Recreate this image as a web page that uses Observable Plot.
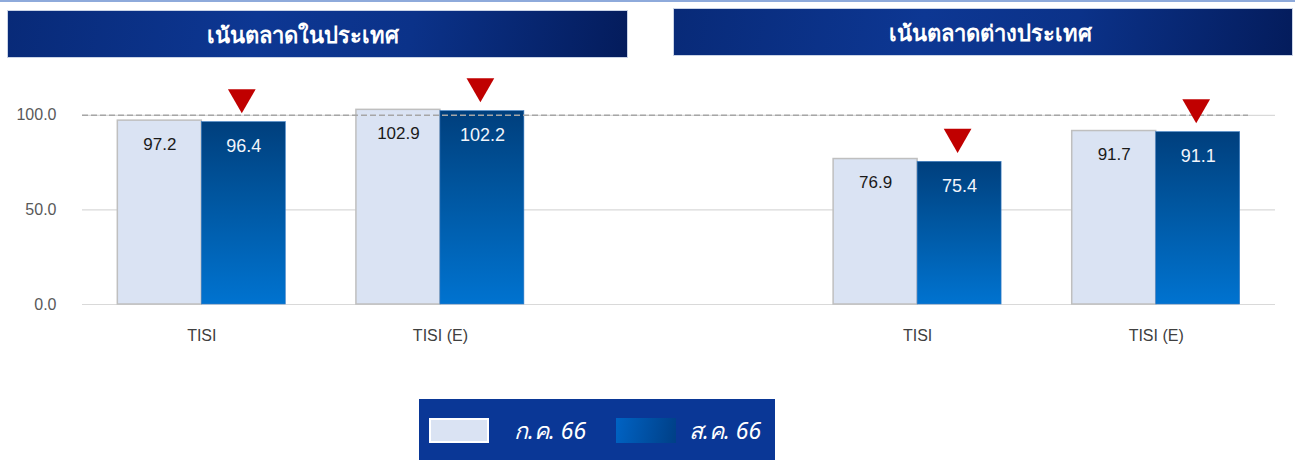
<!DOCTYPE html>
<html>
<head>
<meta charset="utf-8">
<script src="https://cdn.jsdelivr.net/npm/d3@7"></script>
<script src="https://cdn.jsdelivr.net/npm/@observablehq/plot@0.6"></script>
<style>
  html, body { margin: 0; padding: 0; background: #fff; }
  #page { position: relative; width: 1295px; height: 460px; overflow: hidden; font-family: "Liberation Sans", Arial, sans-serif; }
  #topline { position: absolute; left: 0; top: 0; width: 1295px; height: 2px; background: #8eaadb; }
  .banner { position: absolute; height: 48px; line-height: 46px; text-align: center; color: #fff; font-size: 22px; font-weight: bold;
    background: linear-gradient(100deg, #082a78 0%, #0d3793 40%, #0b3289 65%, #041c5c 100%); border: 1px solid #c9d3e6; box-sizing: border-box;
    font-family: "Noto Sans", "Liberation Sans", sans-serif; }
  #chart { position: absolute; left: 0; top: 0; }
  #legend { position: absolute; left: 419px; top: 399px; width: 356px; height: 61px; background: #0a3796; }
  .sw { position: absolute; top: 19px; width: 60px; height: 25px; box-sizing: border-box; }
  .lt { position: absolute; top: 18px; line-height: 27px; color: #fff; font-size: 23px; font-style: italic; font-family: "Noto Sans", "Liberation Sans", sans-serif; }
</style>
</head>
<body>
<div id="page">
  <div id="topline"></div>
  <div class="banner" id="b1" style="left:7px; top:10px; width:621px; padding-right:30px;"></div>
  <div class="banner" id="b2" style="left:673px; top:8px; width:620px; padding-left:14px;"></div>
  <div id="chart"></div>
  <div id="legend">
    <div class="sw" style="left:10px; background:#dae3f3; border:2px solid #fff;"></div>
    <div class="lt" id="l1" style="left:95px;"></div>
    <div class="sw" style="left:197px; background:linear-gradient(100deg,#0063c4,#003f86);"></div>
    <div class="lt" id="l2" style="left:270px;"></div>
  </div>
</div>
<script>
// ---- data ----
const panels = ["เน้นตลาดในประเทศ", "เน้นตลาดต่างประเทศ"];
const seriesNames = ["ก.ค. 66", "ส.ค. 66"];
const categories = ["TISI", "TISI (E)", "TISI", "TISI (E)"];
const categoryPanel = [0, 0, 1, 1];
const julValues = [97.2, 102.9, 76.9, 91.7];
const augValues = [96.4, 102.2, 75.4, 91.1];
const yTicks = [0, 50, 100];
const refLine = [100];

document.getElementById("b1").textContent = panels[0];
document.getElementById("b2").textContent = panels[1];
document.getElementById("l1").textContent = seriesNames[0];
document.getElementById("l2").textContent = seriesNames[1];

const keys = categories.map((c, i) => panels[categoryPanel[i]] + "|" + c);
const domain = [keys[0], keys[1], "gap", keys[2], keys[3]];
const labelOf = k => k === "gap" ? "" : k.split("|")[1];

const jul = keys.map((k, i) => ({key: k, value: julValues[i]}));
const aug = keys.map((k, i) => ({key: k, value: augValues[i]}));

const half = 84;

const plot = Plot.plot({
  width: 1295,
  height: 360,
  marginLeft: 82,
  marginRight: 20,
  marginTop: 77,
  marginBottom: 56,
  style: {fontFamily: "'Liberation Sans', Arial, sans-serif", fontSize: "16px", background: "transparent"},
  x: {type: "band", domain, round: false, paddingInner: 0.296, paddingOuter: 0.148, label: null, tickSize: 0, tickPadding: 25, tickFormat: labelOf},
  y: {domain: [0, 120], ticks: yTicks, tickFormat: d3.format(".1f"), label: null, tickSize: 0, tickPadding: 26},
  marks: [
    Plot.ruleY(yTicks, {stroke: "#d9d9d9", strokeWidth: 1.2}),
    Plot.barY(jul, {x: "key", y: "value", insetRight: half, fill: "#dae3f3", stroke: "#bfbfbf", strokeWidth: 1.5}),
    Plot.barY(aug, {x: "key", y: "value", insetLeft: half, fill: "url(#augGrad)", stroke: "#3a7cc4", strokeWidth: 0.6}),
    Plot.ruleY(refLine, {stroke: "#a6a6a6", strokeWidth: 1.5, strokeDasharray: "6,3", insetRight: 27}),
    Plot.text(jul, {x: "key", y: "value", text: d => d.value.toFixed(1), dx: -half / 2, dy: 24, fill: "#1a1a1a", fontSize: 17}),
    Plot.text(aug, {x: "key", y: "value", text: d => d.value.toFixed(1), dx: half / 2, dy: 24, fill: "#f2f5fb", fontSize: 18}),
    Plot.dot(aug, {x: "key", y: "value", symbol: "triangle", rotate: 180, r: 10.3, dx: half / 2 - 2, dy: -25, fill: "#c00000", stroke: "none"})
  ]
});

// gradient defs
const ns = "http://www.w3.org/2000/svg";
const defs = document.createElementNS(ns, "defs");
const lg = document.createElementNS(ns, "linearGradient");
lg.setAttribute("id", "augGrad");
lg.setAttribute("x1", "0"); lg.setAttribute("y1", "0"); lg.setAttribute("x2", "0"); lg.setAttribute("y2", "1");
[["0%", "#003f7d"], ["40%", "#00559e"], ["100%", "#0073d0"]].forEach(([o, c]) => {
  const s = document.createElementNS(ns, "stop");
  s.setAttribute("offset", o); s.setAttribute("stop-color", c);
  lg.appendChild(s);
});
defs.appendChild(lg);
plot.insertBefore(defs, plot.firstChild);

plot.querySelectorAll("[aria-label='y-axis tick label']").forEach(e => e.setAttribute("fill", "#595959"));
plot.querySelectorAll("[aria-label='x-axis tick label']").forEach(e => e.setAttribute("fill", "#404040"));

document.getElementById("chart").appendChild(plot);
</script>
</body>
</html>
